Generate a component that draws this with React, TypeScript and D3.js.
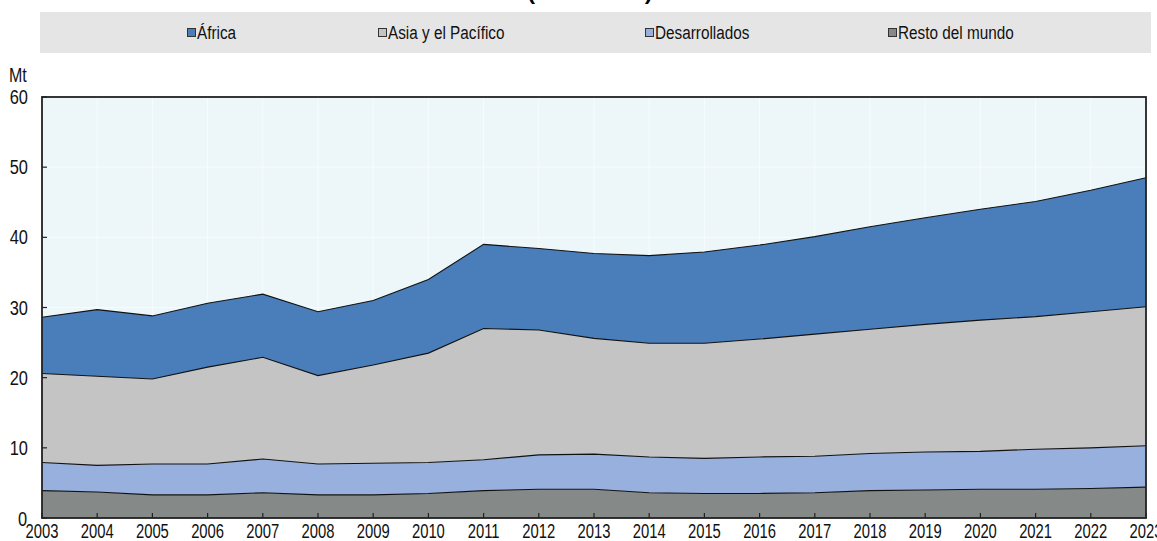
import React, { useEffect, useRef } from "react";
import * as d3 from "d3";

// values in Mt
const years = [
  2003, 2004, 2005, 2006, 2007, 2008, 2009, 2010, 2011, 2012, 2013,
  2014, 2015, 2016, 2017, 2018, 2019, 2020, 2021, 2022, 2023,
];
const resto = [3.9, 3.7, 3.3, 3.3, 3.6, 3.3, 3.3, 3.5, 3.9, 4.1, 4.1, 3.6, 3.5, 3.5, 3.6, 3.9, 4.0, 4.1, 4.1, 4.2, 4.4];
const desarrollados = [4.0, 3.8, 4.4, 4.4, 4.8, 4.4, 4.5, 4.4, 4.4, 4.9, 5.0, 5.1, 5.0, 5.2, 5.2, 5.3, 5.4, 5.4, 5.7, 5.8, 5.9];
const asia = [12.7, 12.7, 12.1, 13.8, 14.5, 12.6, 14.0, 15.6, 18.7, 17.8, 16.5, 16.2, 16.4, 16.8, 17.4, 17.7, 18.2, 18.7, 18.9, 19.4, 19.8];
const africa = [8.0, 9.5, 9.0, 9.1, 9.0, 9.1, 9.2, 10.5, 12.0, 11.6, 12.1, 12.5, 13.0, 13.4, 13.9, 14.6, 15.2, 15.8, 16.4, 17.3, 18.4];

const yTicks = [0, 10, 20, 30, 40, 50, 60];

const seriesKeys = ["resto", "desarrollados", "asia", "africa"];
const seriesColors: Record<string, string> = {
  africa: "#4a7ebb",
  asia: "#c3c4c3",
  desarrollados: "#98b0de",
  resto: "#858988",
};
const legendItems = [
  { key: "africa", label: "África" },
  { key: "asia", label: "Asia y el Pacífico" },
  { key: "desarrollados", label: "Desarrollados" },
  { key: "resto", label: "Resto del mundo" },
];

const font = "'Liberation Sans', Arial, sans-serif";

const App: React.FC = () => {
  const svgRef = useRef<SVGSVGElement>(null);

  useEffect(() => {
    if (!svgRef.current) return;
    const svg = d3.select(svgRef.current);
    svg.selectAll("*").remove();

    const left = 42;
    const right = 1146;
    const top = 97;
    const bottom = 518;

    const x = d3.scaleLinear().domain([2003, 2023]).range([left, right]);
    const y = d3.scaleLinear().domain([0, 60]).range([bottom, top]);

    const table = years.map((yr, i) => ({
      year: yr,
      resto: resto[i],
      desarrollados: desarrollados[i],
      asia: asia[i],
      africa: africa[i],
    }));

    const stacked = d3.stack<any>().keys(seriesKeys)(table);

    // narrow the text the way the original condensed font does
    const squeeze = (sel: any, ratio: number) =>
      sel.each(function (this: SVGTextElement) {
        const w = this.getComputedTextLength();
        d3.select(this)
          .attr("textLength", w * ratio)
          .attr("lengthAdjust", "spacingAndGlyphs");
      });

    // title (cut off at the top of the picture)
    svg
      .append("text")
      .attr("x", 590)
      .attr("y", 0)
      .attr("text-anchor", "middle")
      .attr("font-family", "Arial, sans-serif")
      .attr("font-weight", "bold")
      .attr("font-size", 20)
      .text("(2003-2023)")
      .attr("textLength", 125)
      .attr("lengthAdjust", "spacingAndGlyphs");

    // legend band
    svg
      .append("rect")
      .attr("x", 40)
      .attr("y", 12)
      .attr("width", 1111)
      .attr("height", 41)
      .attr("fill", "#e5e5e5");

    const legendX = [187, 378, 645, 888];
    legendItems.forEach((it, i) => {
      svg
        .append("rect")
        .attr("x", legendX[i] + 0.5)
        .attr("y", 28.5)
        .attr("width", 8)
        .attr("height", 8)
        .attr("fill", seriesColors[it.key])
        .attr("stroke", "#333")
        .attr("stroke-width", 1);
      const t = svg
        .append("text")
        .attr("x", legendX[i] + 10)
        .attr("y", 39)
        .attr("font-family", font)
        .attr("font-size", 18)
        .attr("fill", "#111")
        .text(it.label);
      squeeze(t, 0.85);
    });

    // plot background and grid
    svg
      .append("rect")
      .attr("x", left)
      .attr("y", top)
      .attr("width", right - left)
      .attr("height", bottom - top)
      .attr("fill", "#edf6f9");

    svg
      .append("g")
      .selectAll("line")
      .data(years.slice(1))
      .enter()
      .append("line")
      .attr("x1", (d) => x(d))
      .attr("x2", (d) => x(d))
      .attr("y1", top)
      .attr("y2", bottom)
      .attr("stroke", "#f8fcfd")
      .attr("stroke-width", 1);

    svg
      .append("g")
      .selectAll("line")
      .data(yTicks.slice(1, -1))
      .enter()
      .append("line")
      .attr("x1", left)
      .attr("x2", right)
      .attr("y1", (d) => y(d))
      .attr("y2", (d) => y(d))
      .attr("stroke", "#f8fcfd")
      .attr("stroke-width", 1);

    // stacked areas
    const area = d3
      .area<any>()
      .x((d) => x(d.data.year))
      .y0((d) => y(d[0]))
      .y1((d) => y(d[1]));

    const line = d3
      .line<any>()
      .x((d) => x(d.data.year))
      .y((d) => y(d[1]));

    svg
      .append("g")
      .selectAll("path")
      .data(stacked)
      .enter()
      .append("path")
      .attr("d", (d: any) => area(d))
      .attr("fill", (d: any) => seriesColors[d.key]);

    svg
      .append("g")
      .selectAll("path")
      .data(stacked)
      .enter()
      .append("path")
      .attr("d", (d: any) => line(d))
      .attr("fill", "none")
      .attr("stroke", "#111")
      .attr("stroke-width", 1.1);

    // frame
    svg
      .append("rect")
      .attr("x", left)
      .attr("y", top)
      .attr("width", right - left)
      .attr("height", bottom - top)
      .attr("fill", "none")
      .attr("stroke", "#222")
      .attr("stroke-width", 1.8);

    // ticks
    svg
      .append("g")
      .selectAll("line")
      .data(yTicks)
      .enter()
      .append("line")
      .attr("x1", left)
      .attr("x2", left + 5)
      .attr("y1", (d) => y(d))
      .attr("y2", (d) => y(d))
      .attr("stroke", "#222")
      .attr("stroke-width", 1.2);

    svg
      .append("g")
      .selectAll("line")
      .data(years)
      .enter()
      .append("line")
      .attr("x1", (d) => x(d))
      .attr("x2", (d) => x(d))
      .attr("y1", bottom)
      .attr("y2", bottom - 5)
      .attr("stroke", "#222")
      .attr("stroke-width", 1.2);

    // tick labels
    const yl = svg
      .append("g")
      .selectAll("text")
      .data(yTicks)
      .enter()
      .append("text")
      .attr("x", (d) => (d === 0 ? 27 : 28))
      .attr("y", (d) => (d === 0 ? y(d) + 1 : y(d)))
      .attr("dy", "0.35em")
      .attr("text-anchor", "end")
      .attr("font-family", font)
      .attr("font-size", 20)
      .attr("fill", "#111")
      .text((d) => String(d));
    squeeze(yl, 0.82);

    const xl = svg
      .append("g")
      .selectAll("text")
      .data(years)
      .enter()
      .append("text")
      .attr("x", (d) => x(d))
      .attr("y", 538)
      .attr("text-anchor", "middle")
      .attr("font-family", font)
      .attr("font-size", 20)
      .attr("fill", "#111")
      .text((d) => String(d));
    squeeze(xl, 0.74);

    // unit
    const mt = svg
      .append("text")
      .attr("x", 9)
      .attr("y", 82)
      .attr("font-family", font)
      .attr("font-size", 20)
      .attr("fill", "#111")
      .text("Mt");
    squeeze(mt, 0.8);
  }, []);

  return (
    <svg
      ref={svgRef}
      width={1157}
      height={541}
      style={{ position: "absolute", left: 0, top: 0, display: "block" }}
    />
  );
};

export default App;
